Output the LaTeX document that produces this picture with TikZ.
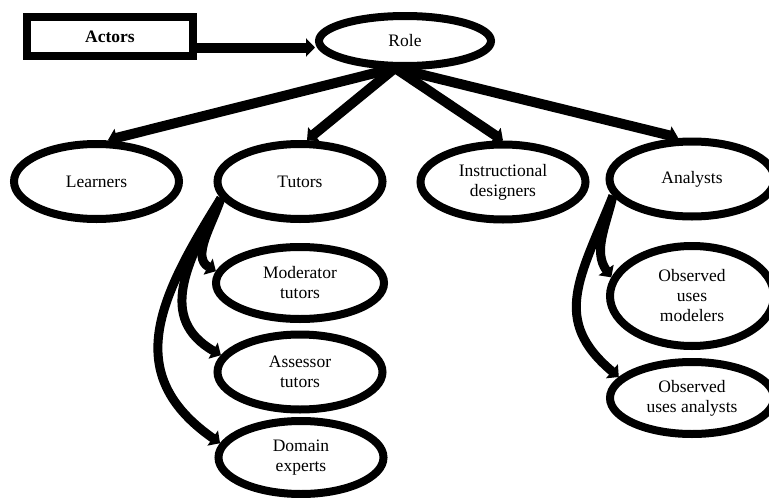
\documentclass[tikz,border=0pt]{standalone}
\usepackage{fontspec}
\setmainfont{Liberation Serif}
\usetikzlibrary{arrows.meta,shapes.geometric}
\begin{document}
\begin{tikzpicture}[x=1pt,y=-1pt,
  ell/.style={draw, ellipse, line width=8pt, inner sep=0pt, align=center,
    font=\fontsize{17.5}{20}\selectfont, minimum width=165pt, minimum height=75pt},
  box/.style={draw, rectangle, line width=8pt, inner sep=0pt, align=center,
    font=\fontsize{17.5}{20}\selectfont\bfseries, minimum width=166pt, minimum height=39pt},
  arr/.style={line width=10pt, -{Triangle[length=9pt,width=18pt]}},
  carr/.style={line width=9pt, -{Triangle[length=9pt,width=18pt]}}
]
\useasboundingbox (0,0) rectangle (769,498);
\clip (0,0) rectangle (769,498);

\node[box] (actors) at (110,36.5) {Actors};
\node[ell, minimum width=172pt, minimum height=50pt] (role) at (405,41) {Role};

\node[ell] (learners) at (96.5,181.5) {Learners};
\node[ell] (tutors) at (300,181.5) {Tutors};
\node[ell] (instr) at (503,182) {Instructional\\designers};
\node[ell] (analysts) at (692,179) {Analysts};

\node[ell, minimum width=168pt, minimum height=72pt] (moder) at (300,283) {Moderator\\tutors};
\node[ell] (assess) at (300,372) {Assessor\\tutors};
\node[ell, minimum height=73pt] (domain) at (301,457.5) {Domain\\experts};

\node[ell, minimum width=164pt, minimum height=100pt] (obsmod) at (692,296) {Observed\\uses\\modelers};
\node[ell, minimum width=164pt, minimum height=72pt] (obsana) at (692,398) {Observed\\uses analysts};

\coordinate (rb) at (395,68);
\draw[arr] ([yshift=-11pt]actors.east) -- ([yshift=-11pt]actors.east -| role.west);
\draw[arr] (rb) -- (learners.north -| 108,0);
\draw[arr] (rb) -- (tutors.north -| 307,0);
\draw[arr] (rb) -- (instr.north -| 503,0);
\draw[arr] (rb) -- (analysts.north -| 678,0);

\draw[carr] (tutors.192) to[out=-108,in=150] (moder.172);
\draw[carr] (tutors.192) to[out=-118,in=150,looseness=1.2] (assess.168);
\draw[carr] (tutors.192) to[out=-122,in=145,looseness=1.25] (domain.170);

\draw[carr] (analysts.192) to[out=-103,in=125] (obsmod.167);
\draw[carr] (analysts.192) to[out=-112,in=140,looseness=1.25] (obsana.164);
\end{tikzpicture}
\end{document}
